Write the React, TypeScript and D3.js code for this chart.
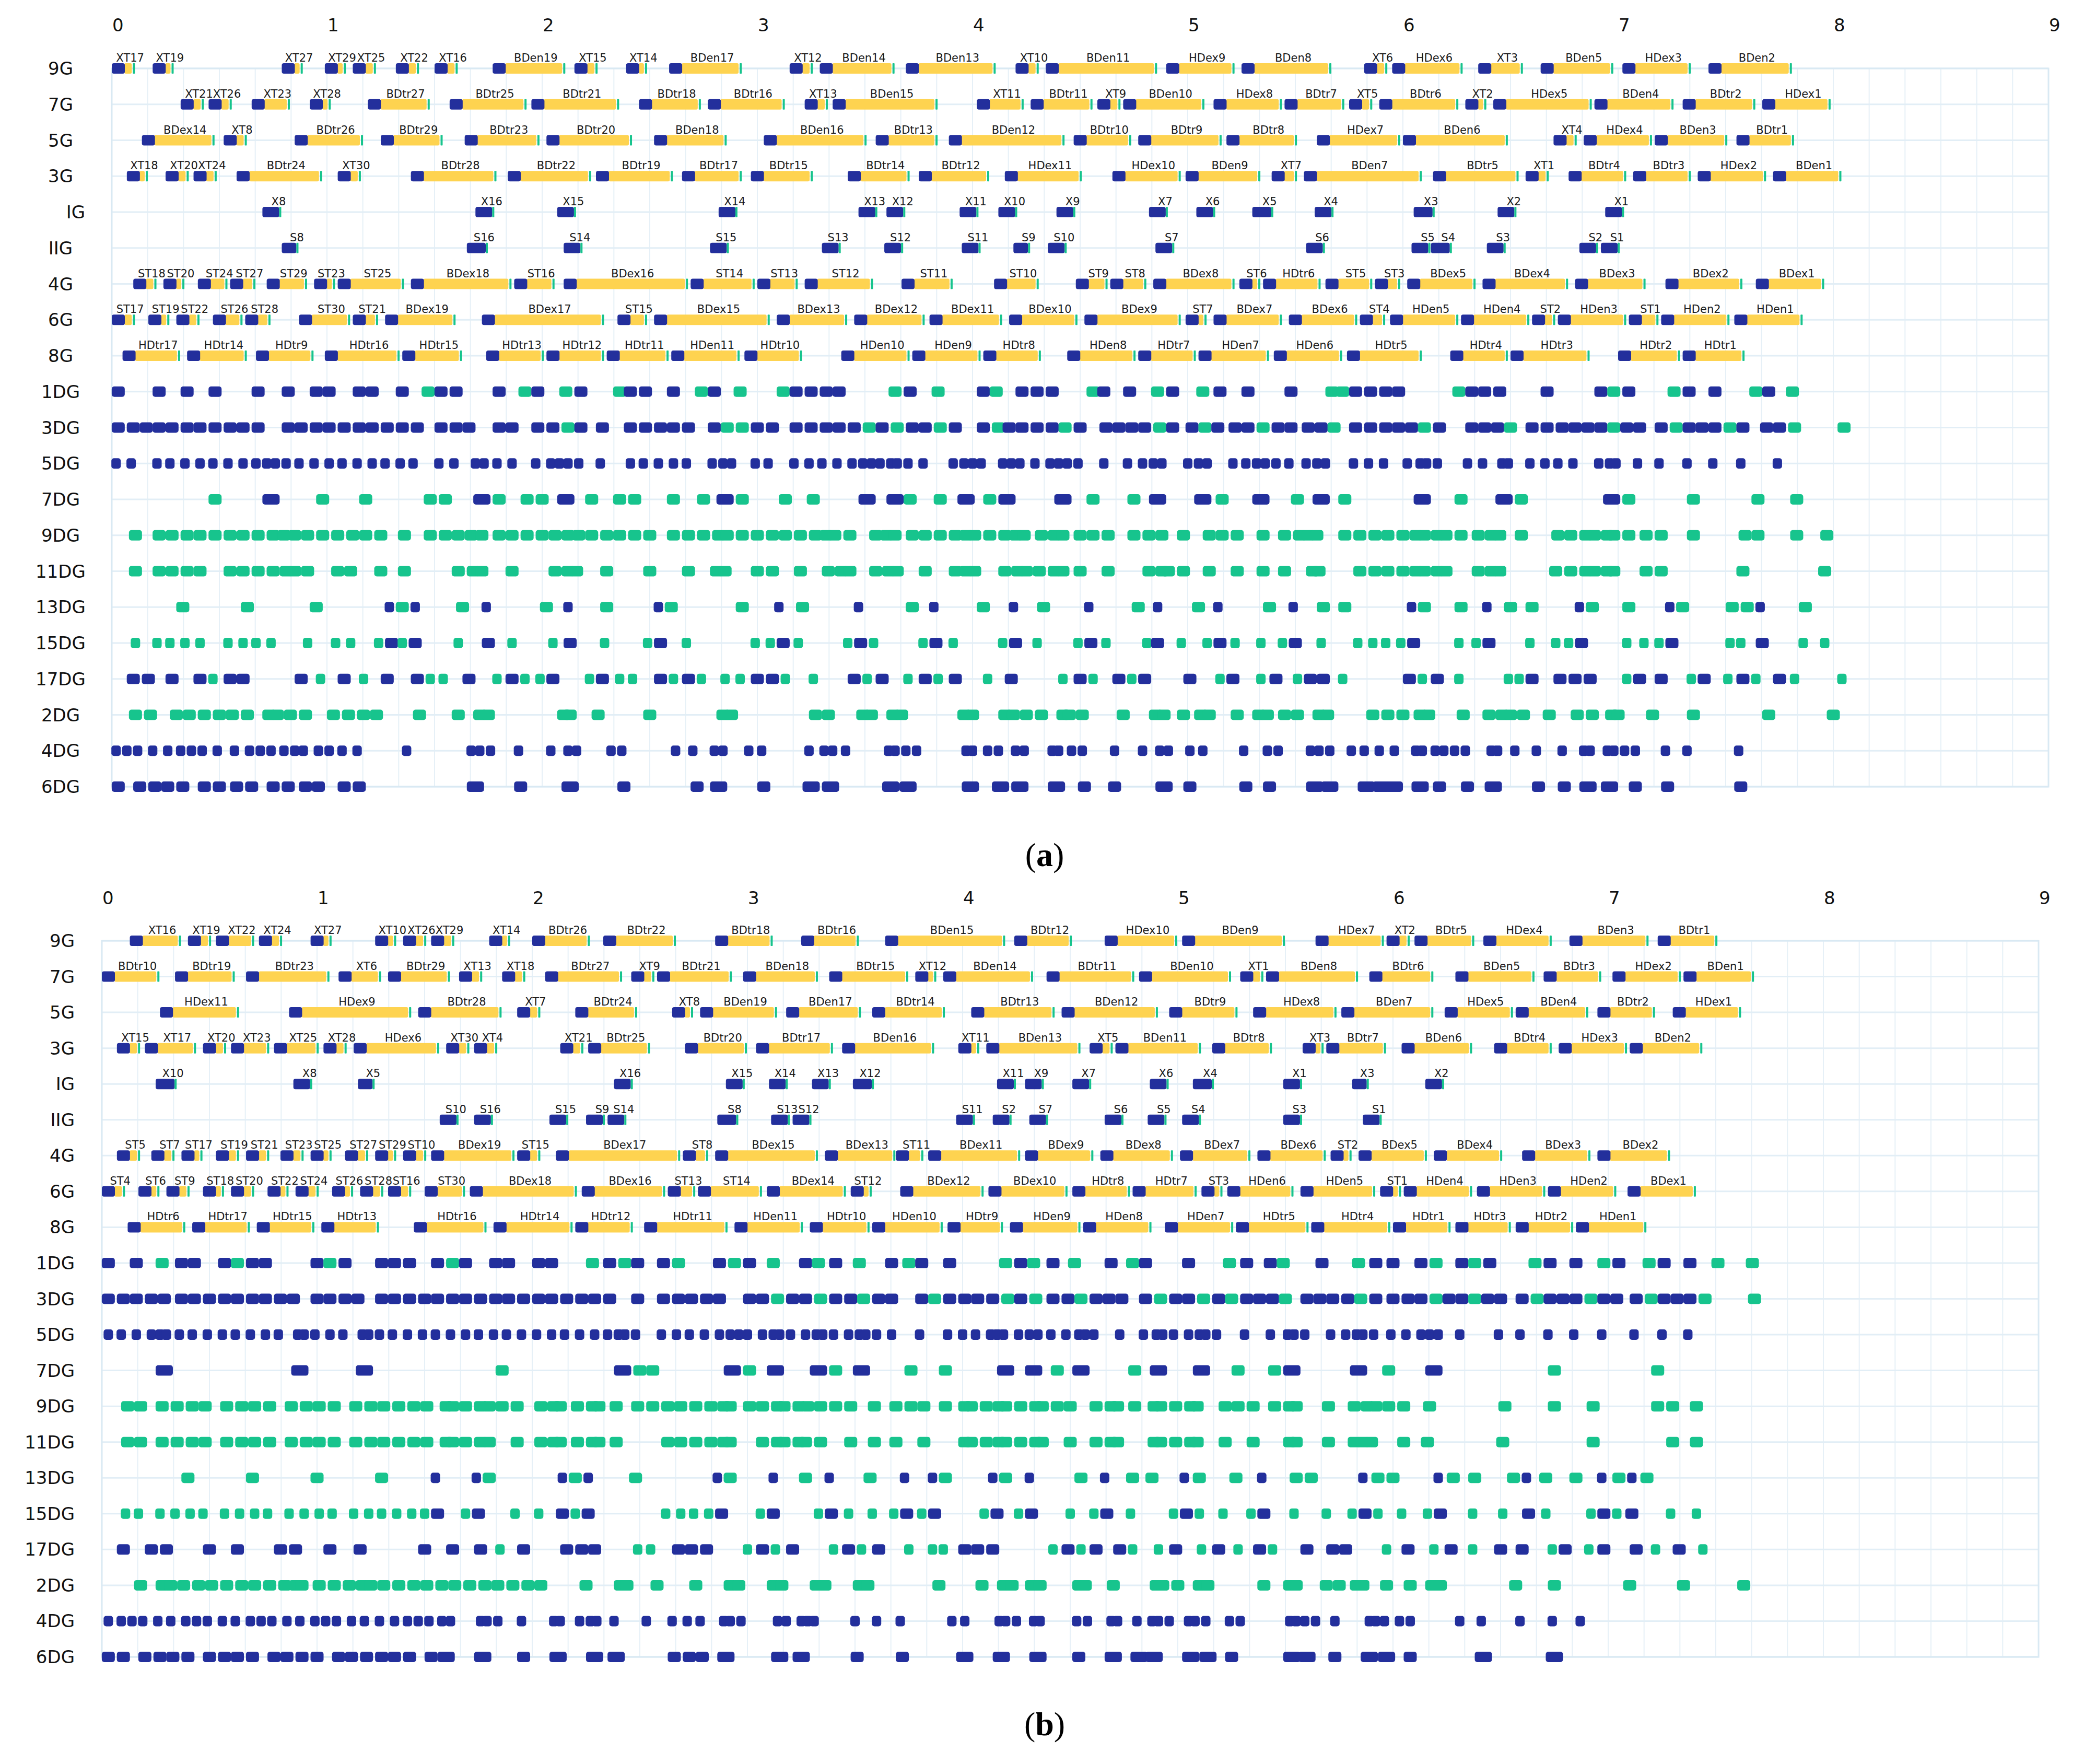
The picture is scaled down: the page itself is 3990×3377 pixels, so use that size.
import React from "react";
import * as d3 from "d3";

// ---------- categories / ticks ----------
const ROW_NAMES = ["9G","7G","5G","3G","IG","IIG","4G","6G","8G","1DG","3DG","5DG","7DG","9DG","11DG","13DG","15DG","17DG","2DG","4DG","6DG"];
const X_TICKS = [0,1,2,3,4,5,6,7,8,9];

type Item = [string, number, number];

// ---------- panel (a) gear rows: [label, start, end] ----------
const A_9G: Item[] = [["XT17",0.00,0.11],["XT19",0.19,0.29],["XT27",0.79,0.89],["XT29",0.99,1.09],["XT25",1.12,1.23],["XT22",1.32,1.43],["XT16",1.50,1.61],["BDen19",1.77,2.11],["XT15",2.15,2.26],["XT14",2.39,2.49],["BDen17",2.59,2.93],["XT12",3.15,3.26],["BDen14",3.29,3.64],["BDen13",3.69,4.11],["XT10",4.20,4.31],["BDen11",4.34,4.86],["HDex9",4.90,5.22],["BDen8",5.25,5.67],["XT6",5.82,5.93],["HDex6",5.95,6.28],["XT3",6.35,6.56],["BDen5",6.64,6.98],["HDex3",7.02,7.34],["BDen2",7.42,7.81]];
const A_7G: Item[] = [["XT21",0.32,0.43],["XT26",0.45,0.56],["XT23",0.65,0.83],["XT28",0.92,1.02],["BDtr27",1.19,1.48],["BDtr25",1.57,1.93],["BDtr21",1.95,2.36],["BDtr18",2.45,2.74],["BDtr16",2.77,3.13],["XT13",3.22,3.33],["BDen15",3.35,3.84],["XT11",4.02,4.24],["BDtr11",4.27,4.56],["XT9",4.58,4.69],["BDen10",4.70,5.08],["HDex8",5.12,5.44],["BDtr7",5.45,5.73],["XT5",5.75,5.86],["BDtr6",5.89,6.26],["XT2",6.29,6.39],["HDex5",6.42,6.88],["BDen4",6.89,7.26],["BDtr2",7.30,7.64],["HDex1",7.67,7.99]];
const A_5G: Item[] = [["BDex14",0.14,0.48],["XT8",0.52,0.63],["BDtr26",0.85,1.17],["BDtr29",1.25,1.54],["BDtr23",1.64,1.99],["BDtr20",2.02,2.42],["BDen18",2.52,2.86],["BDen16",3.03,3.51],["BDtr13",3.55,3.84],["BDen12",3.89,4.43],["BDtr10",4.47,4.74],["BDtr9",4.77,5.16],["BDtr8",5.18,5.51],["HDex7",5.60,5.99],["BDen6",6.00,6.49],["XT4",6.70,6.81],["HDex4",6.84,7.16],["BDen3",7.17,7.51],["BDtr1",7.55,7.82]];
const A_3G: Item[] = [["XT18",0.07,0.17],["XT20",0.25,0.36],["XT24",0.38,0.49],["BDtr24",0.58,0.98],["XT30",1.05,1.16],["BDtr28",1.39,1.79],["BDtr22",1.84,2.23],["BDtr19",2.25,2.61],["BDtr17",2.65,2.93],["BDtr15",2.97,3.26],["BDtr14",3.42,3.71],["BDtr12",3.75,4.08],["HDex11",4.15,4.51],["HDex10",4.65,4.97],["BDen9",4.99,5.34],["XT7",5.39,5.51],["BDen7",5.54,6.09],["BDtr5",6.14,6.54],["XT1",6.57,6.68],["BDtr4",6.77,7.04],["BDtr3",7.07,7.34],["HDex2",7.37,7.69],["BDen1",7.72,8.04]];
const A_IG: Item[] = [["X8",0.70,0.79],["X16",1.69,1.78],["X15",2.07,2.16],["X14",2.82,2.91],["X13",3.47,3.56],["X12",3.60,3.69],["X11",3.94,4.03],["X10",4.12,4.21],["X9",4.39,4.48],["X7",4.82,4.91],["X6",5.04,5.13],["X5",5.30,5.40],["X4",5.59,5.68],["X3",6.05,6.15],["X2",6.44,6.53],["X1",6.94,7.03]];
const A_IIG: Item[] = [["S8",0.79,0.87],["S16",1.65,1.75],["S14",2.10,2.19],["S15",2.78,2.87],["S13",3.30,3.39],["S12",3.59,3.68],["S11",3.95,4.04],["S9",4.19,4.27],["S10",4.35,4.44],["S7",4.85,4.94],["S6",5.55,5.64],["S5",6.04,6.13],["S4",6.13,6.23],["S3",6.39,6.48],["S2",6.82,6.91],["S1",6.92,7.01]];
const A_4G: Item[] = [["ST18",0.10,0.21],["ST20",0.24,0.34],["ST24",0.40,0.54],["ST27",0.55,0.67],["ST29",0.72,0.91],["ST23",0.94,1.04],["ST25",1.05,1.36],["BDex18",1.39,1.86],["ST16",1.87,2.06],["BDex16",2.10,2.68],["ST14",2.69,2.99],["ST13",3.00,3.19],["ST12",3.22,3.54],["ST11",3.67,3.91],["ST10",4.10,4.31],["ST9",4.48,4.63],["ST8",4.64,4.81],["BDex8",4.84,5.22],["ST6",5.24,5.34],["HDtr6",5.35,5.62],["ST5",5.64,5.86],["ST3",5.87,5.99],["BDex5",6.02,6.34],["BDex4",6.37,6.77],["BDex3",6.80,7.13],["BDex2",7.22,7.58],["BDex1",7.64,7.96]];
const A_6G: Item[] = [["ST17",0.00,0.11],["ST19",0.17,0.27],["ST22",0.30,0.41],["ST26",0.47,0.61],["ST28",0.62,0.74],["ST30",0.87,1.11],["ST21",1.12,1.24],["BDex19",1.27,1.60],["BDex17",1.72,2.29],["ST15",2.35,2.49],["BDex15",2.52,3.06],["BDex13",3.09,3.42],["BDex12",3.45,3.78],["BDex11",3.80,4.14],["BDex10",4.17,4.49],["BDex9",4.52,4.97],["ST7",4.99,5.09],["BDex7",5.12,5.44],["BDex6",5.47,5.79],["ST4",5.80,5.92],["HDen5",5.94,6.26],["HDen4",6.27,6.59],["ST2",6.60,6.71],["HDen3",6.72,7.04],["ST1",7.05,7.19],["HDen2",7.20,7.52],["HDen1",7.54,7.86]];
const A_8G: Item[] = [["HDtr17",0.05,0.32],["HDtr14",0.35,0.63],["HDtr9",0.67,0.94],["HDtr16",0.99,1.34],["HDtr15",1.35,1.63],["HDtr13",1.74,2.01],["HDtr12",2.02,2.29],["HDtr11",2.30,2.59],["HDen11",2.60,2.92],["HDtr10",2.94,3.21],["HDen10",3.39,3.71],["HDen9",3.72,4.04],["HDtr8",4.05,4.32],["HDen8",4.44,4.76],["HDtr7",4.77,5.04],["HDen7",5.05,5.38],["HDen6",5.40,5.72],["HDtr5",5.74,6.09],["HDtr4",6.22,6.49],["HDtr3",6.50,6.87],["HDtr2",7.00,7.29],["HDtr1",7.30,7.59]];

// ---------- panel (a) DG rows: centre + kind (N navy, n narrow navy, W wide navy, G green, g narrow green) ----------
const A_1DG = ["0.03N","0.22N","0.35N","0.48N","0.68N","0.82N","0.95N","1.01N","1.15N","1.21N","1.35N","1.47G","1.53N","1.60N","1.80N","1.92G","1.98N","2.11G","2.18N","2.36G","2.41N","2.48N","2.61N","2.74G","2.80N","2.92G","3.12G","3.18N","3.25N","3.32N","3.38N","3.64G","3.71N","3.84G","4.05N","4.11G","4.23N","4.30N","4.37N","4.56G","4.61N","4.73N","4.86G","4.93N","5.07G","5.15N","5.28N","5.48N","5.67G","5.72G","5.78N","5.85N","5.92N","5.98N","6.26G","6.32N","6.38N","6.45N","6.67N","6.92N","6.98G","7.05N","7.26G","7.33N","7.45N","7.64G","7.70N","7.81G"];
const A_3DG = ["0.03N","0.10N","0.16N","0.22N","0.28N","0.35N","0.41N","0.48N","0.55N","0.61N","0.68N","0.82N","0.88N","0.95N","1.01N","1.08N","1.15N","1.21N","1.28N","1.35N","1.42N","1.53N","1.60N","1.66N","1.80N","1.86N","1.98N","2.05N","2.12G","2.18N","2.28N","2.41N","2.48N","2.55N","2.61N","2.68N","2.80N","2.86G","2.93G","3.00N","3.07N","3.18N","3.25N","3.32N","3.38N","3.45N","3.52G","3.58N","3.65G","3.72N","3.78N","3.85G","3.92N","4.05N","4.12G","4.17N","4.23N","4.30N","4.37N","4.43G","4.50N","4.62N","4.68N","4.74N","4.80N","4.87G","4.93N","5.02N","5.08G","5.14N","5.22N","5.28N","5.35G","5.42N","5.48N","5.56N","5.62N","5.68G","5.78N","5.85N","5.92N","5.98N","6.04N","6.10G","6.17N","6.32N","6.38N","6.44N","6.50G","6.60N","6.67N","6.74N","6.80N","6.86N","6.92N","6.98G","7.04N","7.10N","7.20N","7.27G","7.33N","7.39N","7.45N","7.52G","7.58N","7.69N","7.75N","7.82G","8.05G"];
const A_5DG = ["0.02n","0.09n","0.21n","0.27n","0.34n","0.41n","0.47n","0.54n","0.61n","0.67n","0.72n","0.76n","0.81n","0.87n","0.94n","1.01n","1.07n","1.14n","1.21n","1.27n","1.34n","1.40n","1.52n","1.59n","1.69n","1.73n","1.79n","1.86n","1.97n","2.04n","2.08n","2.12n","2.17n","2.27n","2.41n","2.47n","2.54n","2.61n","2.67n","2.79n","2.84n","2.88n","2.99n","3.05n","3.17n","3.24n","3.30n","3.37n","3.44n","3.49n","3.53n","3.57n","3.62n","3.65n","3.70n","3.77n","3.91n","3.96n","4.00n","4.04n","4.14n","4.18n","4.22n","4.29n","4.36n","4.40n","4.44n","4.49n","4.61n","4.72n","4.79n","4.84n","4.88n","5.00n","5.05n","5.09n","5.21n","5.27n","5.32n","5.36n","5.41n","5.47n","5.55n","5.60n","5.64n","5.77n","5.84n","5.91n","6.02n","6.08n","6.11n","6.16n","6.30n","6.37n","6.46n","6.49n","6.59n","6.66n","6.72n","6.79n","6.91n","6.96n","6.99n","7.09n","7.19n","7.32n","7.44n","7.57n","7.74n"];
const A_7DG = ["0.48G","0.74W","0.98G","1.18G","1.48G","1.55G","1.72W","1.80G","1.93G","2.00G","2.11W","2.23G","2.36G","2.43G","2.61G","2.75G","2.85W","2.93G","3.13G","3.26G","3.51W","3.64W","3.71G","3.85G","3.97W","4.08G","4.16W","4.42W","4.56G","4.75G","4.86W","5.07W","5.16G","5.34W","5.51G","5.62W","5.73G","6.09W","6.27G","6.47W","6.55G","6.97W","7.05G","7.35G","7.65G","7.83G"];
const A_9DG = ["0.11G","0.22G","0.28G","0.35G","0.41G","0.48G","0.55G","0.61G","0.68G","0.75G","0.80G","0.85G","0.91G","0.98G","1.05G","1.12G","1.18G","1.25G","1.36G","1.48G","1.55G","1.61G","1.67G","1.72G","1.80G","1.86G","1.93G","2.00G","2.06G","2.12G","2.17G","2.23G","2.30G","2.36G","2.43G","2.50G","2.61G","2.68G","2.75G","2.82G","2.86G","2.93G","3.00G","3.07G","3.13G","3.20G","3.27G","3.32G","3.36G","3.43G","3.55G","3.60G","3.64G","3.72G","3.78G","3.85G","3.92G","3.97G","4.01G","4.08G","4.15G","4.20G","4.24G","4.32G","4.38G","4.42G","4.50G","4.56G","4.63G","4.75G","4.82G","4.88G","4.98G","5.10G","5.16G","5.23G","5.35G","5.45G","5.52G","5.56G","5.60G","5.73G","5.80G","5.87G","5.93G","6.00G","6.06G","6.10G","6.16G","6.20G","6.27G","6.35G","6.41G","6.45G","6.55G","6.72G","6.78G","6.85G","6.89G","6.95G","6.98G","7.05G","7.13G","7.20G","7.35G","7.59G","7.65G","7.83G","7.97G"];
const A_11DG = ["0.11G","0.22G","0.28G","0.35G","0.41G","0.55G","0.61G","0.68G","0.75G","0.81G","0.85G","0.91G","1.05G","1.11G","1.25G","1.36G","1.61G","1.68G","1.72G","1.86G","2.06G","2.12G","2.16G","2.30G","2.50G","2.68G","2.81G","2.85G","3.00G","3.07G","3.20G","3.33G","3.39G","3.43G","3.55G","3.61G","3.65G","3.78G","3.92G","3.97G","4.01G","4.15G","4.21G","4.25G","4.31G","4.38G","4.42G","4.50G","4.63G","4.82G","4.88G","4.91G","4.98G","5.10G","5.23G","5.35G","5.45G","5.58G","5.61G","5.80G","5.87G","5.93G","6.00G","6.06G","6.10G","6.16G","6.20G","6.35G","6.41G","6.45G","6.71G","6.78G","6.85G","6.89G","6.95G","6.98G","7.13G","7.20G","7.58G","7.96G"];
const A_13DG = ["0.33G","0.63G","0.95G","1.29n","1.35G","1.41n","1.63G","1.74n","2.02G","2.12n","2.30G","2.54n","2.60G","2.93G","3.10n","3.21G","3.47n","3.72G","3.82n","4.05G","4.19n","4.33G","4.54n","4.77G","4.86n","5.05G","5.14n","5.38G","5.49n","5.63G","5.73G","6.04n","6.10G","6.27G","6.39n","6.50G","6.60G","6.82n","6.88G","7.05G","7.24n","7.30G","7.53G","7.60G","7.66n","7.87G"];
const A_15DG = ["0.11g","0.21g","0.27g","0.34g","0.41g","0.54g","0.61g","0.67g","0.74g","0.91g","1.04g","1.11g","1.24g","1.30N","1.35g","1.41N","1.61g","1.75N","1.86g","2.05g","2.13N","2.29g","2.49g","2.55N","2.67g","2.99g","3.06g","3.12N","3.19g","3.42g","3.48N","3.54g","3.77g","3.83N","3.91g","4.14g","4.20N","4.30g","4.49g","4.55N","4.62g","4.81g","4.86N","4.97g","5.09g","5.15N","5.22g","5.34g","5.44g","5.50N","5.62g","5.79g","5.86g","5.92g","5.99g","6.05N","6.26g","6.34g","6.40N","6.59g","6.71g","6.77g","6.83N","7.04g","7.12g","7.19g","7.25N","7.52g","7.57g","7.67N","7.86g","7.96g"];
const A_17DG = ["0.10N","0.17N","0.28N","0.41N","0.47g","0.55N","0.61N","0.88N","0.97g","1.08N","1.17g","1.28N","1.42N","1.48g","1.54g","1.66N","1.79g","1.86N","1.92g","1.99g","2.05N","2.22g","2.28N","2.36g","2.42g","2.55N","2.61g","2.68N","2.74g","2.85g","2.92g","3.00N","3.07N","3.13g","3.26g","3.45N","3.51g","3.58N","3.70g","3.78N","3.84g","3.92N","4.07g","4.18N","4.42g","4.50N","4.56g","4.68N","4.74g","4.80N","5.01N","5.15g","5.21N","5.34g","5.41N","5.51g","5.57N","5.63N","5.72g","6.03N","6.09g","6.16N","6.26g","6.49g","6.54g","6.60N","6.73N","6.80N","6.87N","7.04g","7.10N","7.20N","7.34g","7.40N","7.51g","7.58N","7.64g","7.75N","7.82g","8.04g"];
const A_2DG = ["0.11G","0.18G","0.30G","0.36G","0.43G","0.50G","0.56G","0.63G","0.73G","0.77G","0.83G","0.90G","1.03G","1.10G","1.17G","1.23G","1.43G","1.61G","1.71G","1.75G","2.10G","2.13G","2.26G","2.50G","2.84G","2.88G","3.27G","3.33G","3.49G","3.53G","3.63G","3.67G","3.96G","4.00G","4.15G","4.19G","4.25G","4.32G","4.42G","4.45G","4.51G","4.70G","4.85G","4.89G","4.98G","5.06G","5.10G","5.23G","5.33G","5.37G","5.45G","5.51G","5.61G","5.65G","5.86G","5.93G","6.00G","6.08G","6.12G","6.28G","6.40G","6.46G","6.50G","6.56G","6.68G","6.81G","6.88G","6.97G","7.00G","7.16G","7.35G","7.70G","8.00G"];
const A_4DG = ["0.02n","0.07n","0.12n","0.19n","0.26n","0.32n","0.37n","0.42n","0.49n","0.57n","0.64n","0.69n","0.74n","0.80n","0.85n","0.89n","0.96n","1.01n","1.07n","1.14n","1.37n","1.67n","1.71n","1.76n","1.89n","2.04n","2.12n","2.16n","2.32n","2.37n","2.62n","2.70n","2.80n","2.84n","2.96n","3.02n","3.24n","3.31n","3.35n","3.41n","3.61n","3.64n","3.69n","3.74n","3.97n","4.00n","4.07n","4.12n","4.20n","4.24n","4.37n","4.40n","4.46n","4.51n","4.66n","4.79n","4.87n","4.91n","5.01n","5.07n","5.26n","5.37n","5.42n","5.57n","5.61n","5.66n","5.76n","5.82n","5.89n","5.96n","6.06n","6.09n","6.15n","6.19n","6.24n","6.29n","6.41n","6.44n","6.52n","6.62n","6.74n","6.84n","6.87n","6.95n","6.98n","7.03n","7.08n","7.22n","7.32n","7.56n"];
const A_6DG = ["0.03N","0.13N","0.20N","0.26N","0.33N","0.43N","0.50N","0.58N","0.65N","0.75N","0.82N","0.90N","0.96N","1.08N","1.15N","1.69W","1.90N","2.13W","2.38N","2.72N","2.82W","3.03N","3.25W","3.34W","3.62W","3.70W","3.99W","4.13W","4.22W","4.39W","4.52N","4.66N","4.89W","5.01N","5.27N","5.38N","5.59W","5.66W","5.83W","5.90W","5.96W","6.08W","6.17N","6.30N","6.42W","6.63N","6.75N","6.86W","6.96W","7.08N","7.23N","7.57N"];

// ---------- panel (b) gear rows ----------
const B_9G: Item[] = [["XT16",0.13,0.37],["XT19",0.40,0.51],["XT22",0.53,0.71],["XT24",0.73,0.84],["XT27",0.97,1.07],["XT10",1.27,1.37],["XT26",1.40,1.51],["XT29",1.53,1.64],["XT14",1.80,1.90],["BDtr26",2.00,2.27],["BDtr22",2.33,2.67],["BDtr18",2.85,3.12],["BDtr16",3.25,3.52],["BDen15",3.64,4.20],["BDtr12",4.24,4.51],["HDex10",4.66,5.00],["BDen9",5.02,5.50],["HDex7",5.64,5.96],["XT2",5.97,6.08],["BDtr5",6.10,6.38],["HDex4",6.42,6.74],["BDen3",6.82,7.19],["BDtr1",7.23,7.51]];
const B_7G: Item[] = [["BDtr10",0.00,0.27],["BDtr19",0.34,0.62],["BDtr23",0.67,1.06],["XT6",1.10,1.30],["BDtr29",1.33,1.62],["XT13",1.66,1.77],["XT18",1.86,1.97],["BDtr27",2.06,2.42],["XT9",2.46,2.57],["BDtr21",2.58,2.93],["BDen18",2.98,3.33],["BDtr15",3.38,3.75],["XT12",3.78,3.88],["BDen14",3.91,4.33],["BDtr11",4.39,4.80],["BDen10",4.82,5.25],["XT1",5.29,5.40],["BDen8",5.41,5.84],["BDtr6",5.89,6.19],["BDen5",6.29,6.66],["BDtr3",6.70,6.97],["HDex2",7.02,7.34],["BDen1",7.35,7.68]];
const B_5G: Item[] = [["HDex11",0.27,0.64],["HDex9",0.87,1.44],["BDtr28",1.47,1.86],["XT7",1.93,2.04],["BDtr24",2.20,2.49],["XT8",2.65,2.75],["BDen19",2.78,3.14],["BDen17",3.18,3.53],["BDtr14",3.58,3.92],["BDtr13",4.04,4.43],["BDen12",4.46,4.91],["BDtr9",4.96,5.28],["HDex8",5.35,5.74],["BDen7",5.76,6.19],["HDex5",6.24,6.56],["BDen4",6.57,6.91],["BDtr2",6.95,7.22],["HDex1",7.30,7.62]];
const B_3G: Item[] = [["XT15",0.07,0.18],["XT17",0.20,0.44],["XT20",0.47,0.58],["XT23",0.60,0.78],["XT25",0.80,1.01],["XT28",1.03,1.14],["HDex6",1.17,1.57],["XT30",1.60,1.71],["XT4",1.73,1.84],["XT21",2.13,2.24],["BDtr25",2.26,2.55],["BDtr20",2.71,3.00],["BDtr17",3.04,3.40],["BDen16",3.44,3.87],["XT11",3.98,4.08],["BDen13",4.11,4.55],["XT5",4.59,4.70],["BDen11",4.71,5.11],["BDtr8",5.16,5.44],["XT3",5.58,5.68],["BDtr7",5.69,5.97],["BDen6",6.04,6.37],["BDtr4",6.47,6.74],["HDex3",6.77,7.09],["BDen2",7.10,7.44]];
const B_IG: Item[] = [["X10",0.25,0.35],["X8",0.89,0.98],["X5",1.19,1.27],["X16",2.38,2.47],["X15",2.90,2.99],["X14",3.10,3.19],["X13",3.30,3.39],["X12",3.49,3.59],["X11",4.16,4.25],["X9",4.29,4.38],["X7",4.51,4.60],["X6",4.87,4.96],["X4",5.07,5.17],["X1",5.49,5.58],["X3",5.81,5.89],["X2",6.15,6.24]];
const B_IIG: Item[] = [["S10",1.57,1.66],["S16",1.73,1.82],["S15",2.08,2.17],["S9",2.25,2.34],["S14",2.35,2.44],["S8",2.86,2.96],["S13",3.11,3.20],["S12",3.21,3.30],["S11",3.97,4.06],["S2",4.14,4.23],["S7",4.31,4.40],["S6",4.66,4.75],["S5",4.86,4.95],["S4",5.02,5.11],["S3",5.49,5.58],["S1",5.86,5.95]];
const B_4G: Item[] = [["ST5",0.07,0.18],["ST7",0.23,0.34],["ST17",0.37,0.47],["ST19",0.53,0.64],["ST21",0.67,0.78],["ST23",0.83,0.94],["ST25",0.97,1.07],["ST27",1.13,1.24],["ST29",1.27,1.37],["ST10",1.40,1.51],["BDex19",1.53,1.92],["ST15",1.93,2.04],["BDex17",2.11,2.69],["ST8",2.70,2.82],["BDex15",2.85,3.33],["BDex13",3.36,3.69],["ST11",3.69,3.82],["BDex11",3.84,4.27],["BDex9",4.29,4.61],["BDex8",4.64,4.98],["BDex7",5.01,5.34],["BDex6",5.37,5.69],["ST2",5.71,5.81],["BDex5",5.84,6.16],["BDex4",6.19,6.51],["BDex3",6.60,6.92],["BDex2",6.95,7.29]];
const B_6G: Item[] = [["ST4",0.00,0.11],["ST6",0.17,0.27],["ST9",0.30,0.41],["ST18",0.47,0.57],["ST20",0.60,0.71],["ST22",0.77,0.87],["ST24",0.90,1.01],["ST26",1.07,1.17],["ST28",1.20,1.31],["ST16",1.33,1.44],["ST30",1.50,1.69],["BDex18",1.71,2.21],["BDex16",2.23,2.62],["ST13",2.63,2.76],["ST14",2.77,3.07],["BDex14",3.09,3.46],["ST12",3.48,3.58],["BDex12",3.71,4.10],["BDex10",4.12,4.49],["HDtr8",4.51,4.78],["HDtr7",4.79,5.09],["ST3",5.11,5.21],["HDen6",5.23,5.54],["HDen5",5.57,5.92],["ST1",5.94,6.04],["HDen4",6.05,6.37],["HDen3",6.39,6.71],["HDen2",6.72,7.04],["BDex1",7.09,7.41]];
const B_8G: Item[] = [["HDtr6",0.12,0.39],["HDtr17",0.42,0.69],["HDtr15",0.72,0.99],["HDtr13",1.02,1.29],["HDtr16",1.45,1.79],["HDtr14",1.82,2.19],["HDtr12",2.20,2.47],["HDtr11",2.52,2.91],["HDen11",2.94,3.26],["HDtr10",3.29,3.57],["HDen10",3.58,3.91],["HDtr9",3.93,4.19],["HDen9",4.22,4.55],["HDen8",4.56,4.88],["HDen7",4.94,5.26],["HDtr5",5.27,5.61],["HDtr4",5.62,5.99],["HDtr1",6.00,6.27],["HDtr3",6.29,6.55],["HDtr2",6.57,6.84],["HDen1",6.85,7.18]];

// ---------- panel (b) DG rows ----------
const B_1DG = ["0.03N","0.16N","0.28G","0.37N","0.43N","0.57N","0.63G","0.70N","0.76N","1.00N","1.06G","1.13N","1.30N","1.36N","1.43N","1.56N","1.63G","1.69N","1.83N","1.89N","2.03N","2.09N","2.28G","2.36N","2.43G","2.49N","2.61N","2.68G","2.87N","2.94G","3.01N","3.12G","3.27N","3.33G","3.41N","3.52G","3.67N","3.75G","3.81N","3.94N","4.20G","4.27N","4.33G","4.42N","4.52G","4.69N","4.79G","4.85N","5.05N","5.24G","5.32N","5.43N","5.49G","5.67N","5.84G","5.92N","6.00N","6.13N","6.20G","6.32N","6.38G","6.45N","6.66G","6.73N","6.85N","6.98G","7.05N","7.19G","7.26N","7.38N","7.51G","7.67G"];
const B_3DG = ["0.03N","0.10N","0.16N","0.23N","0.29N","0.37N","0.43N","0.50N","0.57N","0.63N","0.70N","0.76N","0.83N","0.89N","1.00N","1.06N","1.13N","1.19N","1.30N","1.36N","1.43N","1.50N","1.56N","1.63N","1.69N","1.76N","1.83N","1.89N","1.96N","2.03N","2.09N","2.16N","2.23N","2.29N","2.36N","2.49N","2.61N","2.68N","2.74N","2.81N","2.87N","3.01N","3.07N","3.14G","3.21N","3.27N","3.34G","3.41N","3.48N","3.54G","3.61N","3.67N","3.81N","3.87G","3.94N","4.01N","4.07N","4.14N","4.21G","4.27N","4.34G","4.42N","4.49N","4.55G","4.62N","4.68N","4.74N","4.85N","4.92G","4.99N","5.05N","5.12G","5.19N","5.25G","5.32N","5.38N","5.44N","5.50G","5.60N","5.66N","5.72N","5.79N","5.85G","5.92N","6.00N","6.07N","6.13N","6.20G","6.26N","6.32N","6.38G","6.44N","6.50N","6.60N","6.67G","6.73N","6.79N","6.85N","6.92G","6.98N","7.04N","7.13N","7.20G","7.26N","7.32N","7.38N","7.45G","7.68G"];
const B_5DG = ["0.03n","0.09n","0.16n","0.23n","0.27n","0.30n","0.36n","0.42n","0.49n","0.56n","0.62n","0.69n","0.76n","0.82n","0.91n","0.94n","0.99n","1.06n","1.12n","1.21n","1.24n","1.29n","1.35n","1.42n","1.49n","1.55n","1.62n","1.69n","1.75n","1.82n","1.88n","1.95n","2.02n","2.09n","2.15n","2.22n","2.29n","2.35n","2.40n","2.43n","2.48n","2.60n","2.67n","2.73n","2.80n","2.87n","2.92n","2.96n","3.00n","3.07n","3.12n","3.15n","3.20n","3.27n","3.32n","3.35n","3.40n","3.47n","3.52n","3.55n","3.60n","3.67n","3.80n","3.93n","4.00n","4.06n","4.13n","4.16n","4.19n","4.26n","4.31n","4.35n","4.41n","4.48n","4.54n","4.57n","4.61n","4.73n","4.84n","4.90n","4.93n","4.98n","5.05n","5.10n","5.13n","5.18n","5.31n","5.43n","5.51n","5.54n","5.59n","5.71n","5.78n","5.83n","5.86n","5.91n","5.99n","6.06n","6.13n","6.17n","6.21n","6.31n","6.49n","6.59n","6.72n","6.84n","6.97n","7.12n","7.25n","7.37n"];
const B_7DG = ["0.29W","0.92W","1.22W","1.86G","2.42W","2.50G","2.56G","2.93W","3.01G","3.13W","3.33W","3.41G","3.53W","3.76G","3.92G","4.20W","4.33W","4.44G","4.55W","4.80G","4.91W","5.11W","5.28G","5.45G","5.53W","5.84W","5.98G","6.19W","6.75G","7.23G"];
const B_9DG = ["0.12G","0.18G","0.28G","0.35G","0.42G","0.48G","0.58G","0.65G","0.71G","0.78G","0.88G","0.95G","1.01G","1.08G","1.18G","1.25G","1.31G","1.38G","1.45G","1.51G","1.60G","1.63G","1.69G","1.76G","1.80G","1.86G","1.93G","2.04G","2.10G","2.13G","2.21G","2.28G","2.31G","2.39G","2.49G","2.56G","2.63G","2.69G","2.76G","2.83G","2.89G","2.92G","3.01G","3.07G","3.14G","3.17G","3.24G","3.28G","3.34G","3.41G","3.48G","3.59G","3.69G","3.76G","3.82G","3.92G","4.01G","4.04G","4.11G","4.17G","4.20G","4.27G","4.34G","4.37G","4.44G","4.50G","4.62G","4.69G","4.72G","4.80G","4.89G","4.92G","4.99G","5.06G","5.09G","5.22G","5.28G","5.35G","5.45G","5.52G","5.55G","5.70G","5.82G","5.88G","5.92G","5.98G","6.05G","6.17G","6.52G","6.75G","6.93G","7.23G","7.30G","7.41G"];
const B_11DG = ["0.12G","0.18G","0.28G","0.35G","0.42G","0.48G","0.58G","0.65G","0.71G","0.78G","0.88G","0.95G","1.01G","1.08G","1.18G","1.25G","1.31G","1.38G","1.45G","1.51G","1.60G","1.63G","1.69G","1.76G","1.80G","1.93G","2.04G","2.10G","2.13G","2.21G","2.28G","2.31G","2.39G","2.63G","2.69G","2.76G","2.83G","2.89G","2.92G","3.07G","3.14G","3.17G","3.24G","3.27G","3.34G","3.48G","3.59G","3.69G","3.82G","4.01G","4.04G","4.11G","4.17G","4.20G","4.27G","4.34G","4.37G","4.50G","4.62G","4.69G","4.72G","4.89G","4.92G","4.99G","5.06G","5.09G","5.22G","5.35G","5.52G","5.55G","5.70G","5.82G","5.86G","5.90G","6.05G","6.16G","6.51G","6.93G","7.30G","7.41G"];
const B_13DG = ["0.40G","0.70G","1.00G","1.30G","1.55n","1.74n","1.80G","2.14n","2.20G","2.26n","2.48G","2.86n","2.92G","3.12n","3.27G","3.38n","3.57G","3.73n","3.86n","3.92G","4.14n","4.20G","4.31n","4.55G","4.66n","4.79G","4.88G","5.03n","5.10G","5.27G","5.39n","5.55G","5.62G","5.86n","5.93G","6.00G","6.21n","6.28G","6.38G","6.56G","6.62n","6.71G","6.85G","6.97n","7.05G","7.11n","7.18G"];
const B_15DG = ["0.11g","0.17g","0.27g","0.34g","0.41g","0.47g","0.57g","0.64g","0.71g","0.77g","0.87g","0.94g","1.01g","1.07g","1.17g","1.24g","1.30g","1.37g","1.44g","1.50g","1.56N","1.69g","1.75N","1.92g","2.03g","2.14N","2.20g","2.26N","2.62g","2.69g","2.75g","2.82g","2.88N","3.06g","3.12N","3.33g","3.39N","3.47g","3.58g","3.68g","3.74N","3.81g","3.87N","4.10g","4.16N","4.26g","4.32N","4.50g","4.61g","4.67N","4.78g","4.98g","5.04N","5.10g","5.21g","5.34g","5.40N","5.54g","5.69g","5.81g","5.87N","5.93g","6.04g","6.16g","6.22N","6.37g","6.51g","6.63N","6.71g","6.92g","6.98N","7.04g","7.11N","7.29g","7.41g"];
const B_17DG = ["0.10N","0.23N","0.30N","0.50N","0.63N","0.83N","0.90N","1.06N","1.20N","1.50N","1.63N","1.76N","1.85g","1.96N","2.16N","2.23N","2.29N","2.49g","2.55g","2.68N","2.74N","2.81N","3.00g","3.07N","3.13g","3.21N","3.40g","3.47N","3.53g","3.61N","3.75g","3.86g","3.91g","4.01N","4.07N","4.14N","4.42g","4.49N","4.55g","4.62N","4.73N","4.79g","4.91g","4.99N","5.11g","5.19N","5.28g","5.38N","5.44g","5.60N","5.72N","5.78N","5.97g","6.07N","6.19g","6.27N","6.37g","6.50N","6.60N","6.74g","6.80N","6.91g","6.98N","7.13N","7.22g","7.33N","7.44g"];
const B_2DG = ["0.18G","0.28G","0.32G","0.38G","0.45G","0.51G","0.58G","0.65G","0.71G","0.78G","0.85G","0.90G","0.93G","1.01G","1.08G","1.15G","1.21G","1.25G","1.31G","1.38G","1.45G","1.51G","1.58G","1.64G","1.71G","1.78G","1.84G","1.91G","1.98G","2.04G","2.25G","2.41G","2.44G","2.58G","2.76G","2.92G","2.96G","3.12G","3.16G","3.32G","3.36G","3.52G","3.56G","3.89G","4.09G","4.19G","4.23G","4.32G","4.36G","4.54G","4.57G","4.70G","4.90G","4.93G","5.00G","5.10G","5.14G","5.40G","5.52G","5.55G","5.69G","5.75G","5.83G","5.86G","5.97G","6.08G","6.18G","6.22G","6.57G","6.75G","7.10G","7.35G","7.63G"];
const B_4DG = ["0.03n","0.09n","0.14n","0.19n","0.26n","0.32n","0.39n","0.44n","0.49n","0.56n","0.62n","0.69n","0.74n","0.79n","0.86n","0.92n","0.99n","1.04n","1.09n","1.16n","1.22n","1.29n","1.36n","1.42n","1.47n","1.52n","1.58n","1.62n","1.76n","1.79n","1.84n","1.95n","2.10n","2.13n","2.22n","2.27n","2.30n","2.38n","2.53n","2.65n","2.72n","2.78n","2.89n","2.92n","2.97n","3.14n","3.18n","3.25n","3.28n","3.31n","3.50n","3.60n","3.71n","3.95n","4.01n","4.17n","4.20n","4.25n","4.33n","4.36n","4.53n","4.58n","4.69n","4.72n","4.81n","4.88n","4.91n","4.96n","5.05n","5.08n","5.13n","5.24n","5.29n","5.52n","5.55n","5.59n","5.64n","5.73n","5.89n","5.92n","5.96n","6.03n","6.08n","6.31n","6.41n","6.59n","6.74n","6.87n"];
const B_6DG = ["0.03N","0.10N","0.20N","0.27N","0.33N","0.40N","0.50N","0.57N","0.63N","0.70N","0.80N","0.86N","0.93N","1.00N","1.10N","1.16N","1.23N","1.30N","1.36N","1.43N","1.53N","1.60W","1.77W","1.96N","2.12W","2.29W","2.39W","2.66N","2.73N","2.79N","2.90W","3.15W","3.25W","3.51N","3.72N","4.01W","4.18W","4.35W","4.54N","4.70W","4.82W","4.89W","5.06W","5.14W","5.25N","5.53W","5.60W","5.73N","5.89W","5.97W","6.08N","6.42W","6.75W"];

// ---------- styling / layout ----------
const NAVY = "#232f9c";
const YELLOW = "#fed350";
const GREEN = "#17c48d";
const GRID_V = "#e6f0f7";
const GRID_H = "#e2eef6";
const UNIT = 412;
const SQ_W: Record<string, number> = { N: 25, n: 18, W: 33, G: 25, g: 18 };
const FONT = "'DejaVu Sans', Verdana, sans-serif";

const PANELS = [
  { tag: "a", x0: 214, y0: 131, step: 68.75, tickY: 60, capY: 1658, anchor: "middle", labelX: 116, igX: 145,
    gears: [A_9G, A_7G, A_5G, A_3G, A_IG, A_IIG, A_4G, A_6G, A_8G],
    dgs: [A_1DG, A_3DG, A_5DG, A_7DG, A_9DG, A_11DG, A_13DG, A_15DG, A_17DG, A_2DG, A_4DG, A_6DG] },
  { tag: "b", x0: 195, y0: 1801, step: 68.55, tickY: 1731, capY: 3322, anchor: "end", labelX: 143, igX: 143,
    gears: [B_9G, B_7G, B_5G, B_3G, B_IG, B_IIG, B_4G, B_6G, B_8G],
    dgs: [B_1DG, B_3DG, B_5DG, B_7DG, B_9DG, B_11DG, B_13DG, B_15DG, B_17DG, B_2DG, B_4DG, B_6DG] },
];

function Panel({ cfg }: { cfg: any }) {
  const nRows = ROW_NAMES.length;
  const x = d3.scaleLinear().domain([0, 9]).range([cfg.x0, cfg.x0 + 9 * UNIT]);
  const y = d3.scaleLinear().domain([0, nRows - 1]).range([cfg.y0, cfg.y0 + (nRows - 1) * cfg.step]);
  const minor = d3.range(0, 9 * 6 + 1).map((i) => i / 6);
  const H = 20;
  return (
    <g>
      {minor.map((v, i) => (
        <line key={"v" + i} x1={x(v)} x2={x(v)} y1={y(0)} y2={y(nRows - 1)} stroke={GRID_V} strokeWidth={2} />
      ))}
      {ROW_NAMES.map((r, i) => (
        <line key={"h" + i} x1={x(0)} x2={x(9)} y1={y(i)} y2={y(i)} stroke={GRID_H} strokeWidth={3} />
      ))}
      <rect x={x(0)} y={y(0)} width={x(9) - x(0)} height={y(nRows - 1) - y(0)} fill="none" stroke="#d9e9f3" strokeWidth={3} />
      {X_TICKS.map((t) => (
        <text key={"t" + t} x={x(t) + 1} y={cfg.tickY} fontFamily={FONT} fontSize={34} fill="#111">{t}</text>
      ))}
      {ROW_NAMES.map((r, i) => (
        <text key={"r" + i} x={r === "IG" ? cfg.igX : cfg.labelX} y={y(i) + 12} textAnchor={cfg.anchor}
          fontFamily={FONT} fontSize={34} fill="#111">{r}</text>
      ))}
      {cfg.gears.map((items: Item[], ri: number) => {
        const yc = y(ri);
        const isX = ROW_NAMES[ri] === "IG" || ROW_NAMES[ri] === "IIG";
        return (
          <g key={"g" + ri}>
            {items.map(([lab, s0, e0], k) => {
              const s = x(s0), e = x(e0);
              const navyEnd = isX ? e - 5 : s + 25;
              return (
                <g key={k}>
                  {!isX && e - 7 > navyEnd && (
                    <rect x={navyEnd - 1} y={yc - H / 2} width={e - 7 - navyEnd + 1} height={H} rx={3} fill={YELLOW} />
                  )}
                  <rect x={s} y={yc - H / 2} width={navyEnd - s} height={H} rx={4} fill={NAVY} />
                  <rect x={e - 5} y={yc - H / 2} width={4} height={H} rx={1} fill={GREEN} />
                  <text x={(s + 25 + e) / 2} y={yc - 13} textAnchor="middle" fontFamily={FONT} fontSize={21} fill="#1a1a1a">{lab}</text>
                </g>
              );
            })}
          </g>
        );
      })}
      {cfg.dgs.map((arr: string[], di: number) => {
        const yc = y(cfg.gears.length + di);
        return (
          <g key={"d" + di}>
            {arr.map((s, k) => {
              const v = parseFloat(s);
              const kind = s.slice(-1);
              const w = SQ_W[kind] || 25;
              const col = kind === "G" || kind === "g" ? GREEN : NAVY;
              return <rect key={k} x={x(v) - w / 2} y={yc - H / 2} width={w} height={H} rx={5} fill={col} />;
            })}
          </g>
        );
      })}
      <text x={2000} y={cfg.capY} textAnchor="middle" fontFamily="'Liberation Serif', 'Times New Roman', serif" fontSize={64} fill="#000">
        (<tspan fontWeight="bold">{cfg.tag}</tspan>)
      </text>
    </g>
  );
}

export default function App() {
  return (
    <svg width={3990} height={3377} viewBox="0 0 3990 3377" style={{ position: "absolute", left: 0, top: 0, background: "#fff" }}>
      <rect x={0} y={0} width={3990} height={3377} fill="#fff" />
      {PANELS.map((p) => (
        <Panel key={p.tag} cfg={p} />
      ))}
    </svg>
  );
}
